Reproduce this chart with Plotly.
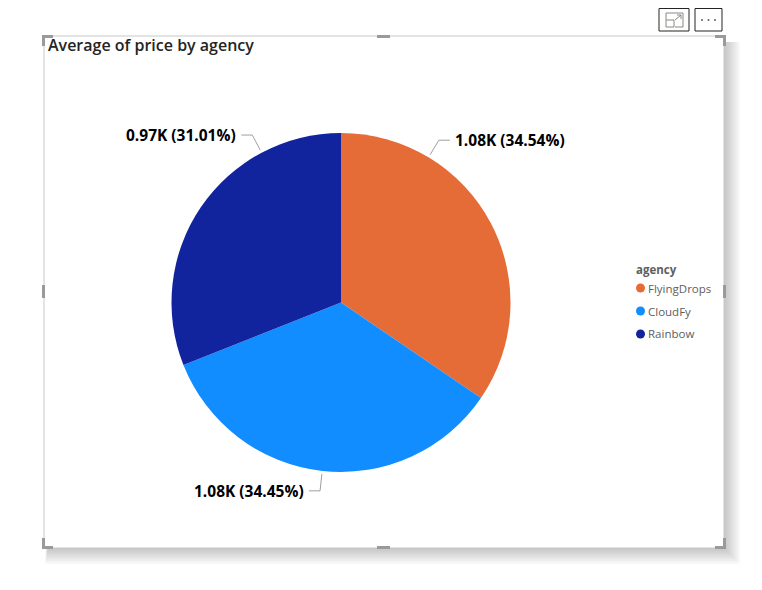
import math
import plotly.graph_objects as go

# ---- data ----
agencies = ["FlyingDrops", "CloudFy", "Rainbow"]
avg_price = [1080.5, 1077.7, 970.1]
colors = ["#E66C37", "#118DFF", "#12239E"]
title_text = "Average of price by agency"
legend_title = "agency"

# ---- layout constants (pixels) ----
W, H = 762, 590
OFF = 8  # page body margin
CX, CY, R = 341, 302.5, 169.5
label_frac = [0.25, 0.5, 0.75]   # where along each slice the leader starts (Power BI style)

def px(x):
    return (x - OFF) / W

def py(y):
    return 1 - (y - OFF) / H

fig = go.Figure()
fig.add_trace(go.Pie(
    labels=agencies, values=avg_price, sort=False, direction="clockwise", rotation=0,
    marker=dict(colors=colors, line=dict(width=0)),
    textinfo="none", hoverinfo="label+value+percent", showlegend=False,
    domain=dict(x=[px(CX - R), px(CX + R)], y=[py(CY + R), py(CY - R)]),
))

shapes = []
annotations = []

# shadow + frame
for i in range(10):
    shapes.append(dict(type="rect", xref="paper", yref="paper", layer="below",
                       x0=px(48 - i * 0.3), x1=px(724 + 1 + i * 1.7), y0=py(548 + 1 + i * 1.7), y1=py(42),
                       line=dict(width=0), fillcolor="rgba(0,0,0,0.024)"))
shapes.append(dict(type="rect", xref="paper", yref="paper", layer="below",
                   x0=px(44), x1=px(724), y0=py(548), y1=py(36),
                   line=dict(color="#c8c8c8", width=1), fillcolor="white"))
hc = "#9a9a9a"
def hrect(x0, y0, x1, y1):
    shapes.append(dict(type="rect", xref="paper", yref="paper", layer="above",
                       x0=px(x0), x1=px(x1), y0=py(y1), y1=py(y0), line=dict(width=0), fillcolor=hc))
# corner handles
hrect(42, 35, 53, 38); hrect(42, 35, 45, 46)
hrect(715, 35, 726, 38); hrect(723, 35, 726, 46)
hrect(42, 546, 53, 549); hrect(42, 538, 45, 549)
hrect(715, 546, 726, 549); hrect(723, 538, 726, 549)
# mid handles
hrect(377, 35, 390, 38); hrect(377, 546, 390, 549)
hrect(42, 285, 45, 298); hrect(723, 285, 726, 298)

# top icons
for (x0, x1) in [(659, 689), (695, 722)]:
    shapes.append(dict(type="rect", xref="paper", yref="paper", layer="above",
                       x0=px(x0), x1=px(x1), y0=py(31), y1=py(8.5),
                       line=dict(color="#252423", width=1), fillcolor="white"))
ic = "#8a8886"
shapes.append(dict(type="path", xref="paper", yref="paper", layer="above",
                   path=f"M {px(666)} {py(20)} L {px(666)} {py(13)} L {px(683)} {py(13)} L {px(683)} {py(27)} L {px(675)} {py(27)}",
                   line=dict(color=ic, width=1)))
shapes.append(dict(type="rect", xref="paper", yref="paper", layer="above",
                   x0=px(666), x1=px(674), y0=py(27), y1=py(20), line=dict(color=ic, width=1)))
shapes.append(dict(type="line", xref="paper", yref="paper", layer="above",
                   x0=px(675), y0=py(20), x1=px(681), y1=py(15), line=dict(color=ic, width=1)))
shapes.append(dict(type="path", xref="paper", yref="paper", layer="above",
                   path=f"M {px(677)} {py(15)} L {px(681)} {py(15)} L {px(681)} {py(19)}",
                   line=dict(color=ic, width=1)))
for dx in [702, 708.5, 715]:
    shapes.append(dict(type="circle", xref="paper", yref="paper", layer="above",
                       x0=px(dx - 1), x1=px(dx + 1), y0=py(21), y1=py(19),
                       line=dict(width=0), fillcolor="#605E5C"))

# title
annotations.append(dict(text=title_text, xref="paper", yref="paper", x=px(46), y=py(45),
                        xanchor="left", yanchor="middle", showarrow=False,
                        font=dict(family="Open Sans", size=16, color="#252423", weight=600)))

# data labels with leader lines
total = sum(avg_price)
cum = 0.0
for name, v, f in zip(agencies, avg_price, label_frac):
    start = cum / total * 360
    span = v / total * 360
    cum += v
    ang = math.radians(start + f * span)
    sx, sy = math.sin(ang), -math.cos(ang)
    e0 = (CX + (R + 3) * sx, CY + (R + 3) * sy)
    e1 = (CX + (R + 20) * sx, CY + (R + 20) * sy)
    side = 1 if sx > 0.05 else -1
    e2 = (e1[0] + side * 11, e1[1])
    shapes.append(dict(type="path", xref="paper", yref="paper", layer="above",
                       path=f"M {px(e0[0])} {py(e0[1])} L {px(e1[0])} {py(e1[1])} L {px(e2[0])} {py(e2[1])}",
                       line=dict(color="#a19f9d", width=1)))
    txt = f"{v/1000:.2f}K ({v/total*100:.2f}%)"
    annotations.append(dict(text=txt, xref="paper", yref="paper", x=px(e2[0] + side * 3), y=py(e2[1]),
                            xanchor="left" if side > 0 else "right", yanchor="middle", showarrow=False,
                            font=dict(family="Open Sans", size=15.5, color="#000000", weight="bold")))

# legend
LX, LY0, LDY = 634, 269, 23
annotations.append(dict(text=legend_title, xref="paper", yref="paper", x=px(LX), y=py(LY0),
                        xanchor="left", yanchor="middle", showarrow=False,
                        font=dict(family="Open Sans", size=11.5, color="#605E5C", weight="bold")))
for i, (name, c) in enumerate(zip(agencies, colors)):
    yy = LY0 + (i + 1) * LDY - 4
    shapes.append(dict(type="circle", xref="paper", yref="paper", layer="above",
                       x0=px(636), x1=px(645), y0=py(yy + 4.5), y1=py(yy - 4.5),
                       line=dict(width=0), fillcolor=c))
    annotations.append(dict(text=name, xref="paper", yref="paper", x=px(646), y=py(yy),
                            xanchor="left", yanchor="middle", showarrow=False,
                            font=dict(family="Open Sans", size=11.5, color="#605E5C")))

fig.update_layout(
    width=W, height=H, margin=dict(l=0, r=0, t=0, b=0),
    paper_bgcolor="white", plot_bgcolor="white",
    shapes=shapes, annotations=annotations, showlegend=False,
)
fig.write_html("out.html")
